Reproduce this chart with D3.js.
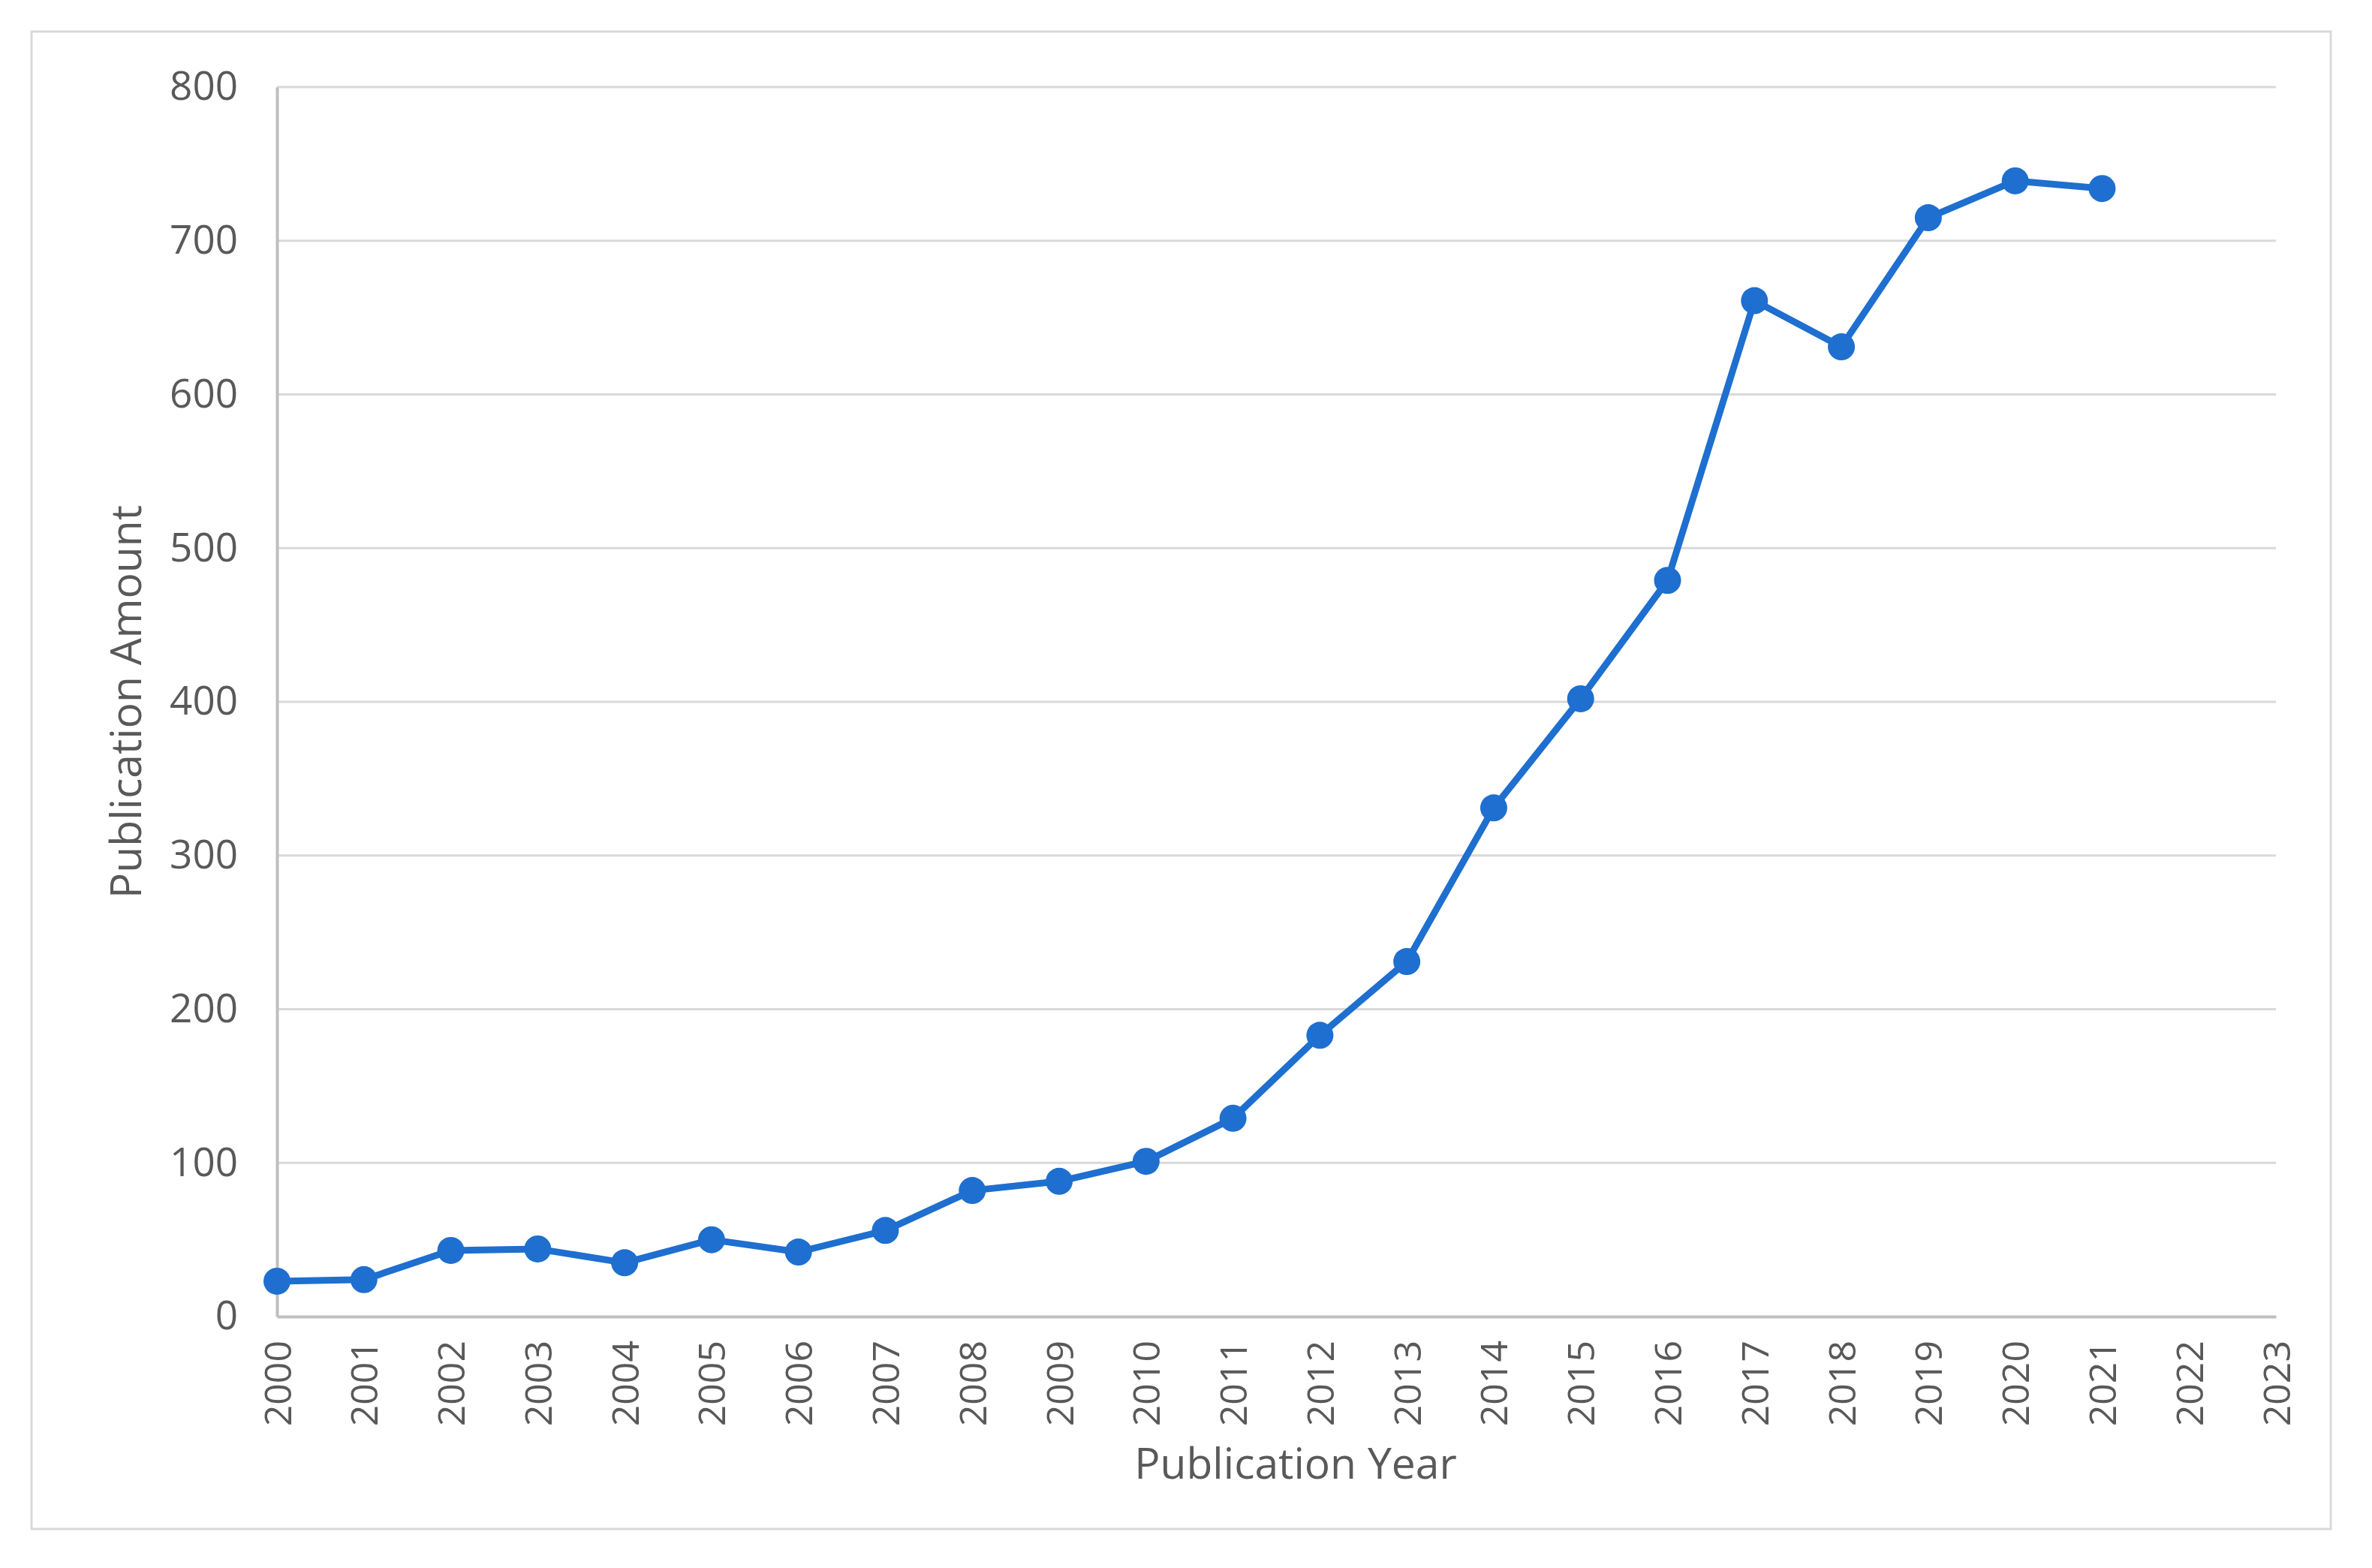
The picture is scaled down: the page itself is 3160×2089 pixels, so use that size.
<!DOCTYPE html>
<html>
<head>
<meta charset="utf-8">
<script src="https://cdn.jsdelivr.net/npm/d3@7"></script>
<style>
  html, body { margin: 0; padding: 0; background: #ffffff; }
  svg { display: block; }
  text { font-family: "Open Sans", "Noto Sans", sans-serif; fill: #595959; }
</style>
</head>
<body>
<svg id="chart" width="3160" height="2089"></svg>
<script>
// ---- data ----
const years = [2000, 2001, 2002, 2003, 2004, 2005, 2006, 2007, 2008, 2009, 2010,
               2011, 2012, 2013, 2014, 2015, 2016, 2017, 2018, 2019, 2020, 2021];
const publications = [23, 24, 43, 44, 35, 50, 42, 56, 82, 88, 101,
                      129, 183, 231, 331, 402, 479, 661, 631, 715, 739, 734];
const xTickYears = [2000, 2001, 2002, 2003, 2004, 2005, 2006, 2007, 2008, 2009, 2010, 2011,
                    2012, 2013, 2014, 2015, 2016, 2017, 2018, 2019, 2020, 2021, 2022, 2023];
const yTickValues = [0, 100, 200, 300, 400, 500, 600, 700, 800];
const xTitle = "Publication Year";
const yTitle = "Publication Amount";

// ---- layout ----
const W = 3160, H = 2089;
const plot = { left: 369, right: 3032, top: 116, bottom: 1754 };
const blue = "#1e6fcf";

const svg = d3.select("#chart");

// outer frame
svg.append("rect")
  .attr("x", 42).attr("y", 42)
  .attr("width", 3105 - 42).attr("height", 2037 - 42)
  .attr("fill", "#ffffff")
  .attr("stroke", "#d9d9d9").attr("stroke-width", 3);

const x = d3.scaleLinear()
  .domain([d3.min(xTickYears), d3.max(xTickYears)])
  .range([plot.left, plot.right]);
const y = d3.scaleLinear()
  .domain([d3.min(yTickValues), d3.max(yTickValues)])
  .range([plot.bottom, plot.top]);

// gridlines
svg.append("g")
  .selectAll("line")
  .data(yTickValues.filter(v => v > 0))
  .join("line")
  .attr("x1", plot.left).attr("x2", plot.right)
  .attr("y1", d => y(d)).attr("y2", d => y(d))
  .attr("stroke", "#d9d9d9").attr("stroke-width", 3);

// y axis
const yAxis = svg.append("g")
  .attr("transform", `translate(${plot.left},0)`)
  .call(d3.axisLeft(y).tickValues(yTickValues).tickSize(0).tickPadding(52).tickFormat(d3.format("d")));
yAxis.select(".domain").attr("stroke", "#bfbfbf").attr("stroke-width", 4);
yAxis.selectAll("text")
  .style("font-family", '"Open Sans", sans-serif')
  .style("font-size", "53px")
  .attr("fill", "#595959");

// x axis
const xAxis = svg.append("g")
  .attr("transform", `translate(0,${plot.bottom})`)
  .call(d3.axisBottom(x).tickValues(xTickYears).tickSize(0).tickFormat(d3.format("d")));
xAxis.select(".domain").attr("stroke", "#bfbfbf").attr("stroke-width", 4);
xAxis.selectAll("text")
  .style("font-family", '"Open Sans", sans-serif')
  .style("font-size", "50px")
  .attr("fill", "#595959")
  .attr("text-anchor", "end")
  .attr("x", 0).attr("y", 0)
  .attr("dy", "0.36em")
  .attr("transform", "translate(0,32) rotate(-90)");

// line
const line = d3.line()
  .x((d, i) => x(years[i]))
  .y(d => y(d));
svg.append("path")
  .datum(publications)
  .attr("d", line)
  .attr("fill", "none")
  .attr("stroke", blue)
  .attr("stroke-width", 9)
  .attr("stroke-linejoin", "round");

// markers
svg.append("g")
  .selectAll("circle")
  .data(publications)
  .join("circle")
  .attr("cx", (d, i) => x(years[i]))
  .attr("cy", d => y(d))
  .attr("r", 18)
  .attr("fill", blue);

// axis titles
svg.append("text")
  .attr("x", 1726).attr("y", 1970)
  .attr("text-anchor", "middle")
  .style("font-size", "57px")
  .text(xTitle);

svg.append("text")
  .attr("transform", `translate(188,${(plot.top + plot.bottom) / 2}) rotate(-90)`)
  .attr("text-anchor", "middle")
  .style("font-size", "57px")
  .text(yTitle);
</script>
</body>
</html>
